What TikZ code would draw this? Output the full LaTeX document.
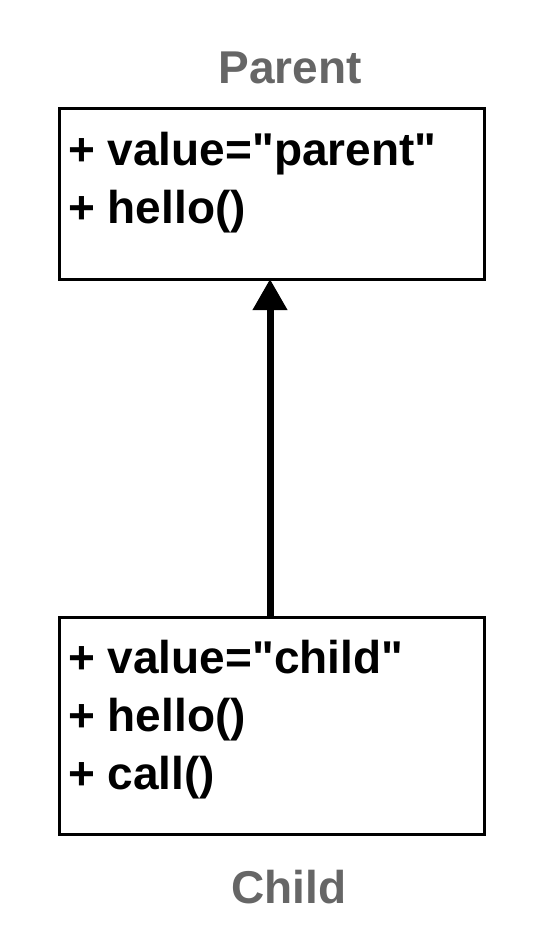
\documentclass[tikz,border=0pt]{standalone}
\usepackage{fontspec}
\setmainfont{Liberation Sans}[Ligatures=TeXOff]
\usetikzlibrary{arrows.meta}
\definecolor{labelgray}{HTML}{666666}
\tikzset{
  classbox/.style={draw=black, line width=3pt, fill=white, minimum width=425pt, inner sep=0pt, outer sep=0pt},
  member/.style={anchor=base west, inner sep=0pt, font=\fontsize{46}{56}\selectfont\bfseries},
  classname/.style={anchor=base, inner sep=0pt, text=labelgray, font=\fontsize{46}{56}\selectfont\bfseries},
  inherit/.style={line width=7pt, -{Triangle[length=31pt, width=33pt]}}
}
\begin{document}
\begin{tikzpicture}[x=1pt, y=-1pt]
\useasboundingbox (0,0) rectangle (549,927);
\node[classbox, minimum height=171pt] (parent) at (271.5,193.5) {};
\node[classbox, minimum height=217pt] (child) at (271.5,726) {};
\node[classname] (parentname) at (290,83) {Parent};
\node[classname] (childname) at (289,903) {Child};
\node[member] (p1) at (68,165) {+ value="parent"};
\node[member] (p2) at (68,223) {+ hello()};
\node[member] (c1) at (68,673) {+ value="child"};
\node[member] (c2) at (68,731) {+ hello()};
\node[member] (c3) at (68,789) {+ call()};
\draw[inherit] ([xshift=-1.5pt]child.north) -- ([xshift=-1.5pt]parent.south);
\end{tikzpicture}
\end{document}
